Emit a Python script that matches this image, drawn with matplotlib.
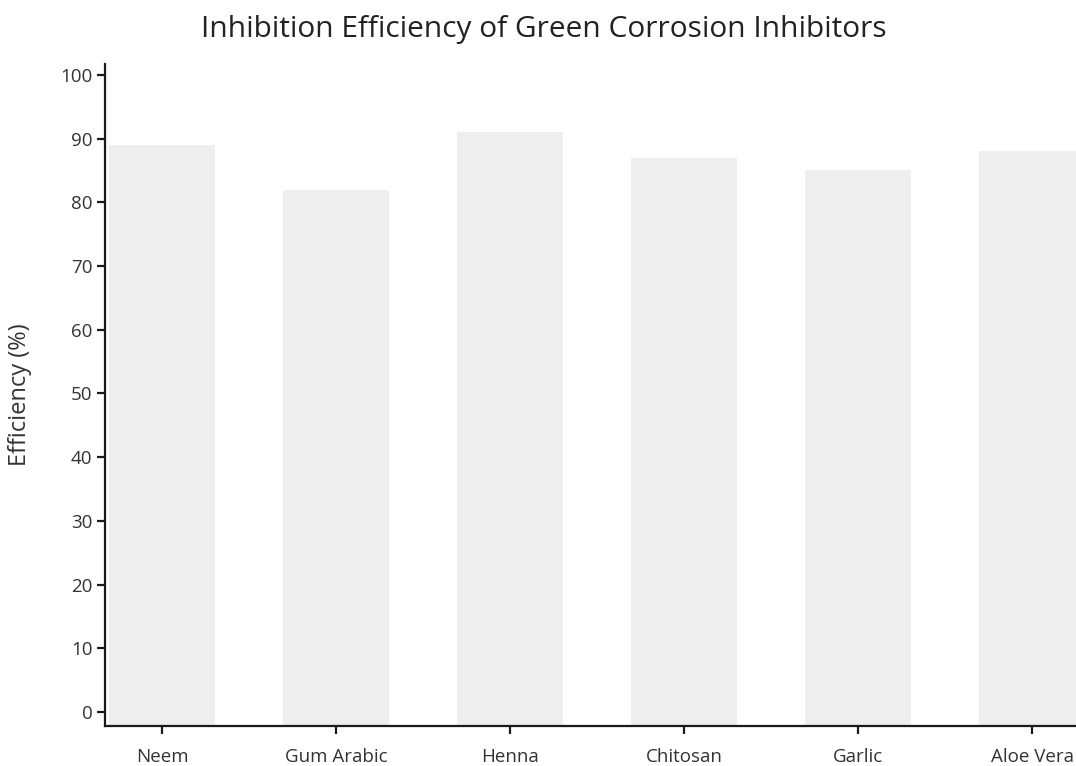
import matplotlib
matplotlib.use("Agg")
import matplotlib.pyplot as plt

categories = ["Neem", "Gum Arabic", "Henna", "Chitosan", "Garlic", "Aloe Vera"]
efficiency = [89, 82, 91, 87, 85, 88]
yticks = [0, 10, 20, 30, 40, 50, 60, 70, 80, 90, 100]

plt.rcParams['font.family'] = ['Open Sans', 'DejaVu Sans']

W, H = 1076, 766
fig = plt.figure(figsize=(W / 100, H / 100), dpi=100)
left_px, right_px, top_px, bottom_px = 105, 1119, 64, 726
ax = fig.add_axes([left_px / W, (H - bottom_px) / H,
                   (right_px - left_px) / W, (bottom_px - top_px) / H])

y0 = -2.2
x = list(range(len(categories)))
ax.bar(x, [v - y0 for v in efficiency], bottom=y0, width=0.61,
       color="#eeeeee", edgecolor="none")

ax.set_ylim(y0, 101.7)
ax.set_xlim(-0.328, len(categories) - 0.5)
ax.set_yticks(yticks)
ax.set_xticks(x)
ax.set_xticklabels(categories)

for s in ["top", "right"]:
    ax.spines[s].set_visible(False)
for s in ["left", "bottom"]:
    ax.spines[s].set_linewidth(1.6)
    ax.spines[s].set_color("#1a1a1a")
ax.tick_params(axis="both", length=6, width=1.6, color="#1a1a1a",
               labelsize=13.5, labelcolor="#333333")
ax.tick_params(axis="x", pad=10)
ax.tick_params(axis="y", pad=3)

ax.set_ylabel("Efficiency (%)", fontsize=17, color="#333333")
ax.yaxis.set_label_coords(-(105 - 32) / (right_px - left_px), 0.5)
fig.text(544 / W, 1 - 29 / H, "Inhibition Efficiency of Green Corrosion Inhibitors",
         ha="center", va="center", fontsize=21.5, color="#222222")

fig.savefig("out.png", dpi=100)
